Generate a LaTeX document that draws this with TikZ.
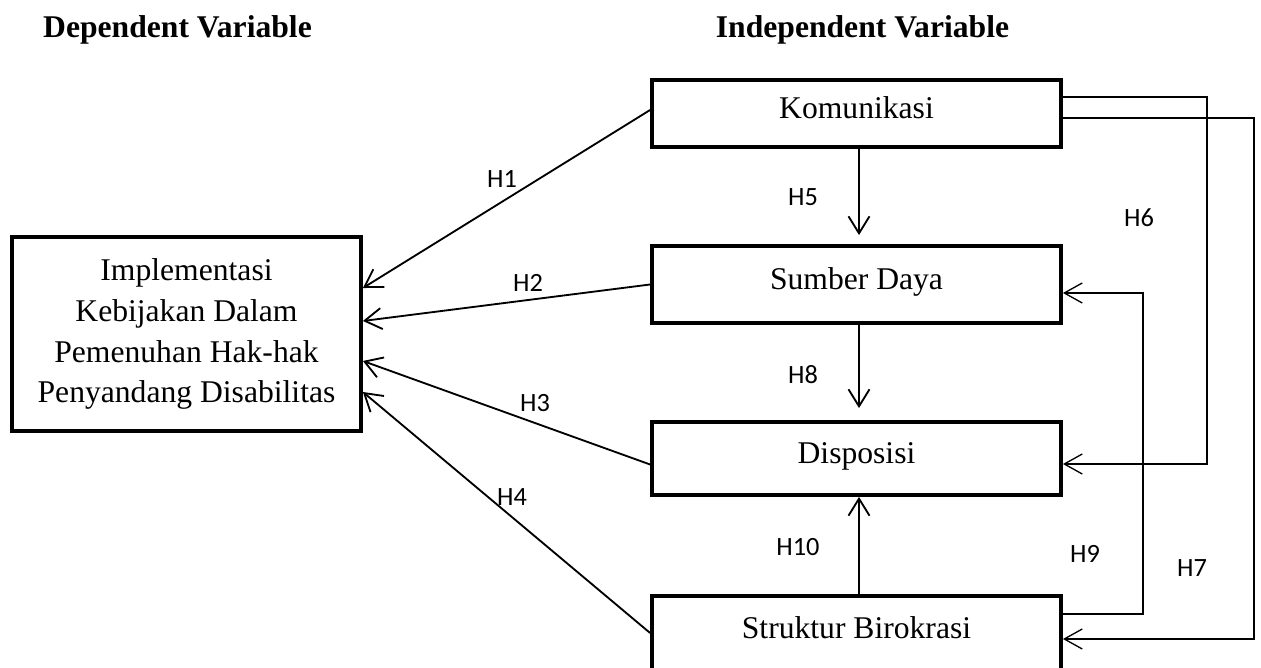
\documentclass[tikz,border=0pt]{standalone}
\usepackage{fontspec}
\setmainfont{Liberation Serif}
\newfontfamily\hypfont{Carlito}
\usetikzlibrary{arrows.meta}

\begin{document}
\begin{tikzpicture}[x=0.02cm, y=-0.02cm,
    varbox/.style={draw, line width=2.2pt, minimum width=8.18cm, inner sep=0pt,
      font=\fontsize{18}{22}\selectfont, text height=0.45cm, text depth=0.25cm},
    head/.style={font=\bfseries\fontsize{18}{22}\selectfont},
    hyp/.style={font=\hypfont\fontsize{15}{18}\selectfont},
    arr/.style={line width=1.05pt, -{Straight Barb[length=0.34cm, width=0.42cm]}},
    sidearr/.style={line width=0.75pt, -{Straight Barb[length=0.36cm, width=0.40cm]}}]
        \useasboundingbox (0,0) rectangle (1261,668);
        \clip (0,0) rectangle (1261,668);

        % --- Headings ---
        \node[head] (hdep) at (177.5,30) {Dependent Variable};
        \node[head] (hind) at (862.5,30) {Independent Variable};

        % --- Dependent variable ---
        \node[draw, line width=2.2pt, minimum width=6.98cm, minimum height=3.88cm,
              align=center, font=\fontsize{18}{23.3}\selectfont] (dv) at (186.5,334)
          {Implementasi\\Kebijakan Dalam\\Pemenuhan Hak-hak\\Penyandang Disabilitas};

        % --- Independent variables ---
        \node[varbox, minimum height=1.34cm] (kom)  at (856.5,113.5) {Komunikasi};
        \node[varbox, minimum height=1.54cm] (sd)   at (856.5,284.5) {Sumber Daya};
        \node[varbox, minimum height=1.46cm] (disp) at (856.5,458.5) {Disposisi};
        \node[varbox, minimum height=1.48cm] (sb)   at (856.5,633)   {Struktur Birokrasi};

        % --- H1 to H4 ---
        \draw[arr] ([yshift=0.07cm]kom.west) -- ([yshift=0.92cm]dv.east);
        \draw[arr] (sd.west) -- ([yshift=0.26cm]dv.east);
        \draw[arr] ([yshift=-0.12cm]disp.west) -- ([yshift=-0.54cm]dv.east);
        \draw[arr] (sb.west) -- ([yshift=-1.16cm]dv.east);
        \node[hyp] (h1) at (502,179) {H1};
        \node[hyp] (h2) at (528,283) {H2};
        \node[hyp] (h3) at (535,403) {H3};
        \node[hyp] (h4) at (512,497) {H4};

        % --- Vertical links ---
        \draw[arr, shorten >=0.18cm] ([xshift=0.05cm]kom.south) -- ([xshift=0.05cm]sd.north);
        \draw[arr, shorten >=0.24cm] ([xshift=0.05cm]sd.south) -- ([xshift=0.05cm]disp.north);
        \draw[arr] ([xshift=0.05cm]sb.north) -- ([xshift=0.05cm]disp.south);
        \node[hyp] (h5)  at (803,197) {H5};
        \node[hyp] (h8)  at (803,375) {H8};
        \node[hyp] (h10) at (798,547) {H10};

        % --- Right side loops ---
        \draw[sidearr] ([yshift=0.33cm]kom.east) -- ++(144,0) |- ([yshift=-0.11cm]disp.east);
        \draw[sidearr] ([yshift=-0.09cm]kom.east) -- ++(191,0) |- ([yshift=-0.12cm]sb.east);
        \draw[sidearr] ([yshift=0.38cm]sb.east) -- ++(80,0) |- ([yshift=-0.17cm]sd.east);
        \node[hyp] (h6) at (1139,218) {H6};
        \node[hyp] (h9) at (1085,554) {H9};
        \node[hyp] (h7) at (1192,568) {H7};
      \end{tikzpicture}
\end{document}
